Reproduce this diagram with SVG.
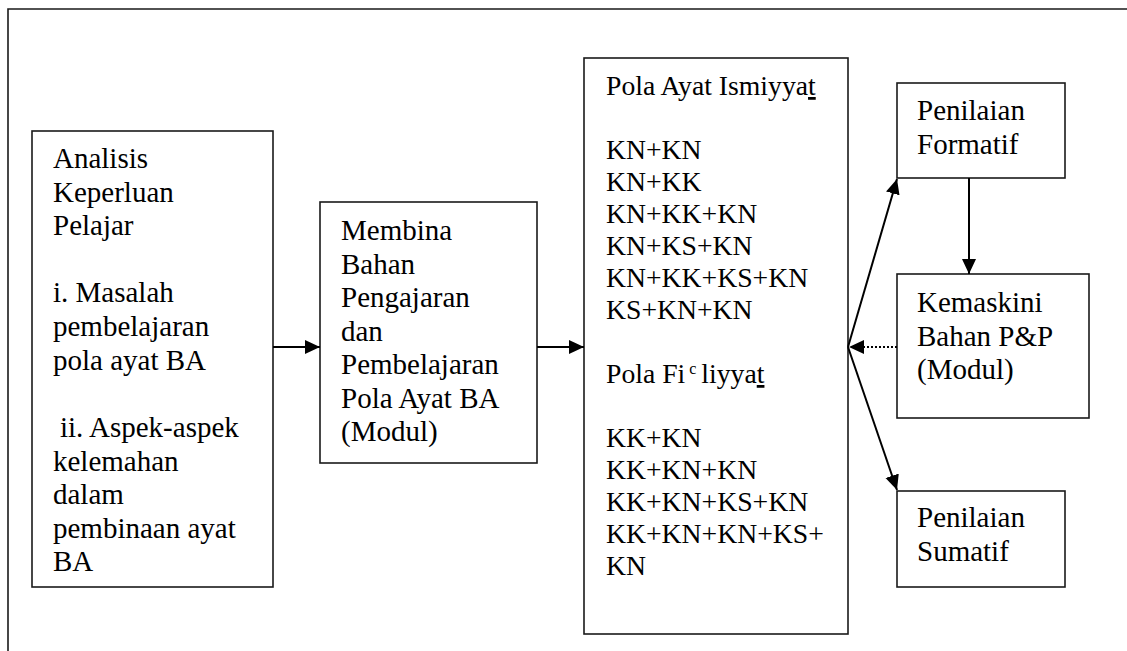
<svg xmlns="http://www.w3.org/2000/svg" width="1127" height="651" viewBox="0 0 1127 651">
<style>
  .box { fill: #fff; stroke: #1a1a1a; stroke-width: 1.6; }
  .conn { stroke: #000; stroke-width: 2; fill: none; }
  .dot { stroke: #000; stroke-width: 2; fill: none; stroke-dasharray: 2 2; }
</style>
<defs>
  <marker id="ah" markerUnits="userSpaceOnUse" markerWidth="16" markerHeight="15" refX="15" refY="7" orient="auto">
    <path d="M0,0 L15,7 L0,14 z" fill="#000"/>
  </marker>
</defs>
<rect width="1127" height="651" fill="#fff"/>
<path d="M8,651 V9 H1127" fill="none" stroke="#1a1a1a" stroke-width="1.6"/>

<g id="analisis" font-family="Liberation Serif" font-size="29">
  <rect class="box" x="32" y="131" width="241" height="456"/>
  <text x="53" y="168">Analisis</text>
  <text x="53" y="201.6">Keperluan</text>
  <text x="53" y="235.2">Pelajar</text>
  <text x="53" y="302.4">i. Masalah</text>
  <text x="53" y="336">pembelajaran</text>
  <text x="53" y="369.6">pola ayat BA</text>
  <text x="60" y="437">ii. Aspek-aspek</text>
  <text x="53" y="470.6">kelemahan</text>
  <text x="53" y="504.2">dalam</text>
  <text x="53" y="537.8">pembinaan ayat</text>
  <text x="53" y="571.4">BA</text>
</g>

<g id="membina" font-family="Liberation Serif" font-size="29">
  <rect class="box" x="320" y="202" width="217" height="261"/>
  <text x="341" y="240">Membina</text>
  <text x="341" y="273.5">Bahan</text>
  <text x="341" y="307">Pengajaran</text>
  <text x="341" y="340.5">dan</text>
  <text x="341" y="374">Pembelajaran</text>
  <text x="341" y="407.5">Pola Ayat BA</text>
  <text x="341" y="441">(Modul)</text>
</g>

<g id="pola" font-family="Liberation Serif" font-size="27.7">
  <rect class="box" x="584" y="58" width="264" height="576"/>
  <text x="606" y="95">Pola Ayat Ismiyya<tspan style="text-decoration: underline">t</tspan></text>
  <text x="606" y="159">KN+KN</text>
  <text x="606" y="191">KN+KK</text>
  <text x="606" y="223">KN+KK+KN</text>
  <text x="606" y="255">KN+KS+KN</text>
  <text x="606" y="287">KN+KK+KS+KN</text>
  <text x="606" y="319">KS+KN+KN</text>
  <text x="606" y="383">Pola Fi<tspan dx="4" dy="-9" font-size="16">c</tspan><tspan dx="5" dy="9">liyya</tspan><tspan style="text-decoration: underline">t</tspan></text>
  <text x="606" y="447">KK+KN</text>
  <text x="606" y="479">KK+KN+KN</text>
  <text x="606" y="511">KK+KN+KS+KN</text>
  <text x="606" y="543">KK+KN+KN+KS+</text>
  <text x="606" y="575">KN</text>
</g>

<g id="formatif" font-family="Liberation Serif" font-size="29">
  <rect class="box" x="897" y="83" width="168" height="95"/>
  <text x="917" y="120">Penilaian</text>
  <text x="917" y="153.5">Formatif</text>
</g>

<g id="kemaskini" font-family="Liberation Serif" font-size="29">
  <rect class="box" x="897" y="274" width="192" height="144"/>
  <text x="917" y="312">Kemaskini</text>
  <text x="917" y="345.5">Bahan P&amp;P</text>
  <text x="917" y="379">(Modul)</text>
</g>

<g id="sumatif" font-family="Liberation Serif" font-size="29">
  <rect class="box" x="897" y="491" width="168" height="96"/>
  <text x="917" y="527">Penilaian</text>
  <text x="917" y="560.5">Sumatif</text>
</g>

<g id="connectors">
  <line class="conn" x1="273" y1="347" x2="320" y2="347" marker-end="url(#ah)"/>
  <line class="conn" x1="537" y1="347" x2="584" y2="347" marker-end="url(#ah)"/>
  <line class="conn" x1="848" y1="347" x2="897" y2="179" marker-end="url(#ah)"/>
  <line class="conn" x1="848" y1="347" x2="897" y2="490" marker-end="url(#ah)"/>
  <line class="conn" x1="969" y1="178" x2="969" y2="274" marker-end="url(#ah)"/>
  <line class="dot" x1="897" y1="347" x2="849" y2="347" marker-end="url(#ah)"/>
</g>
</svg>
